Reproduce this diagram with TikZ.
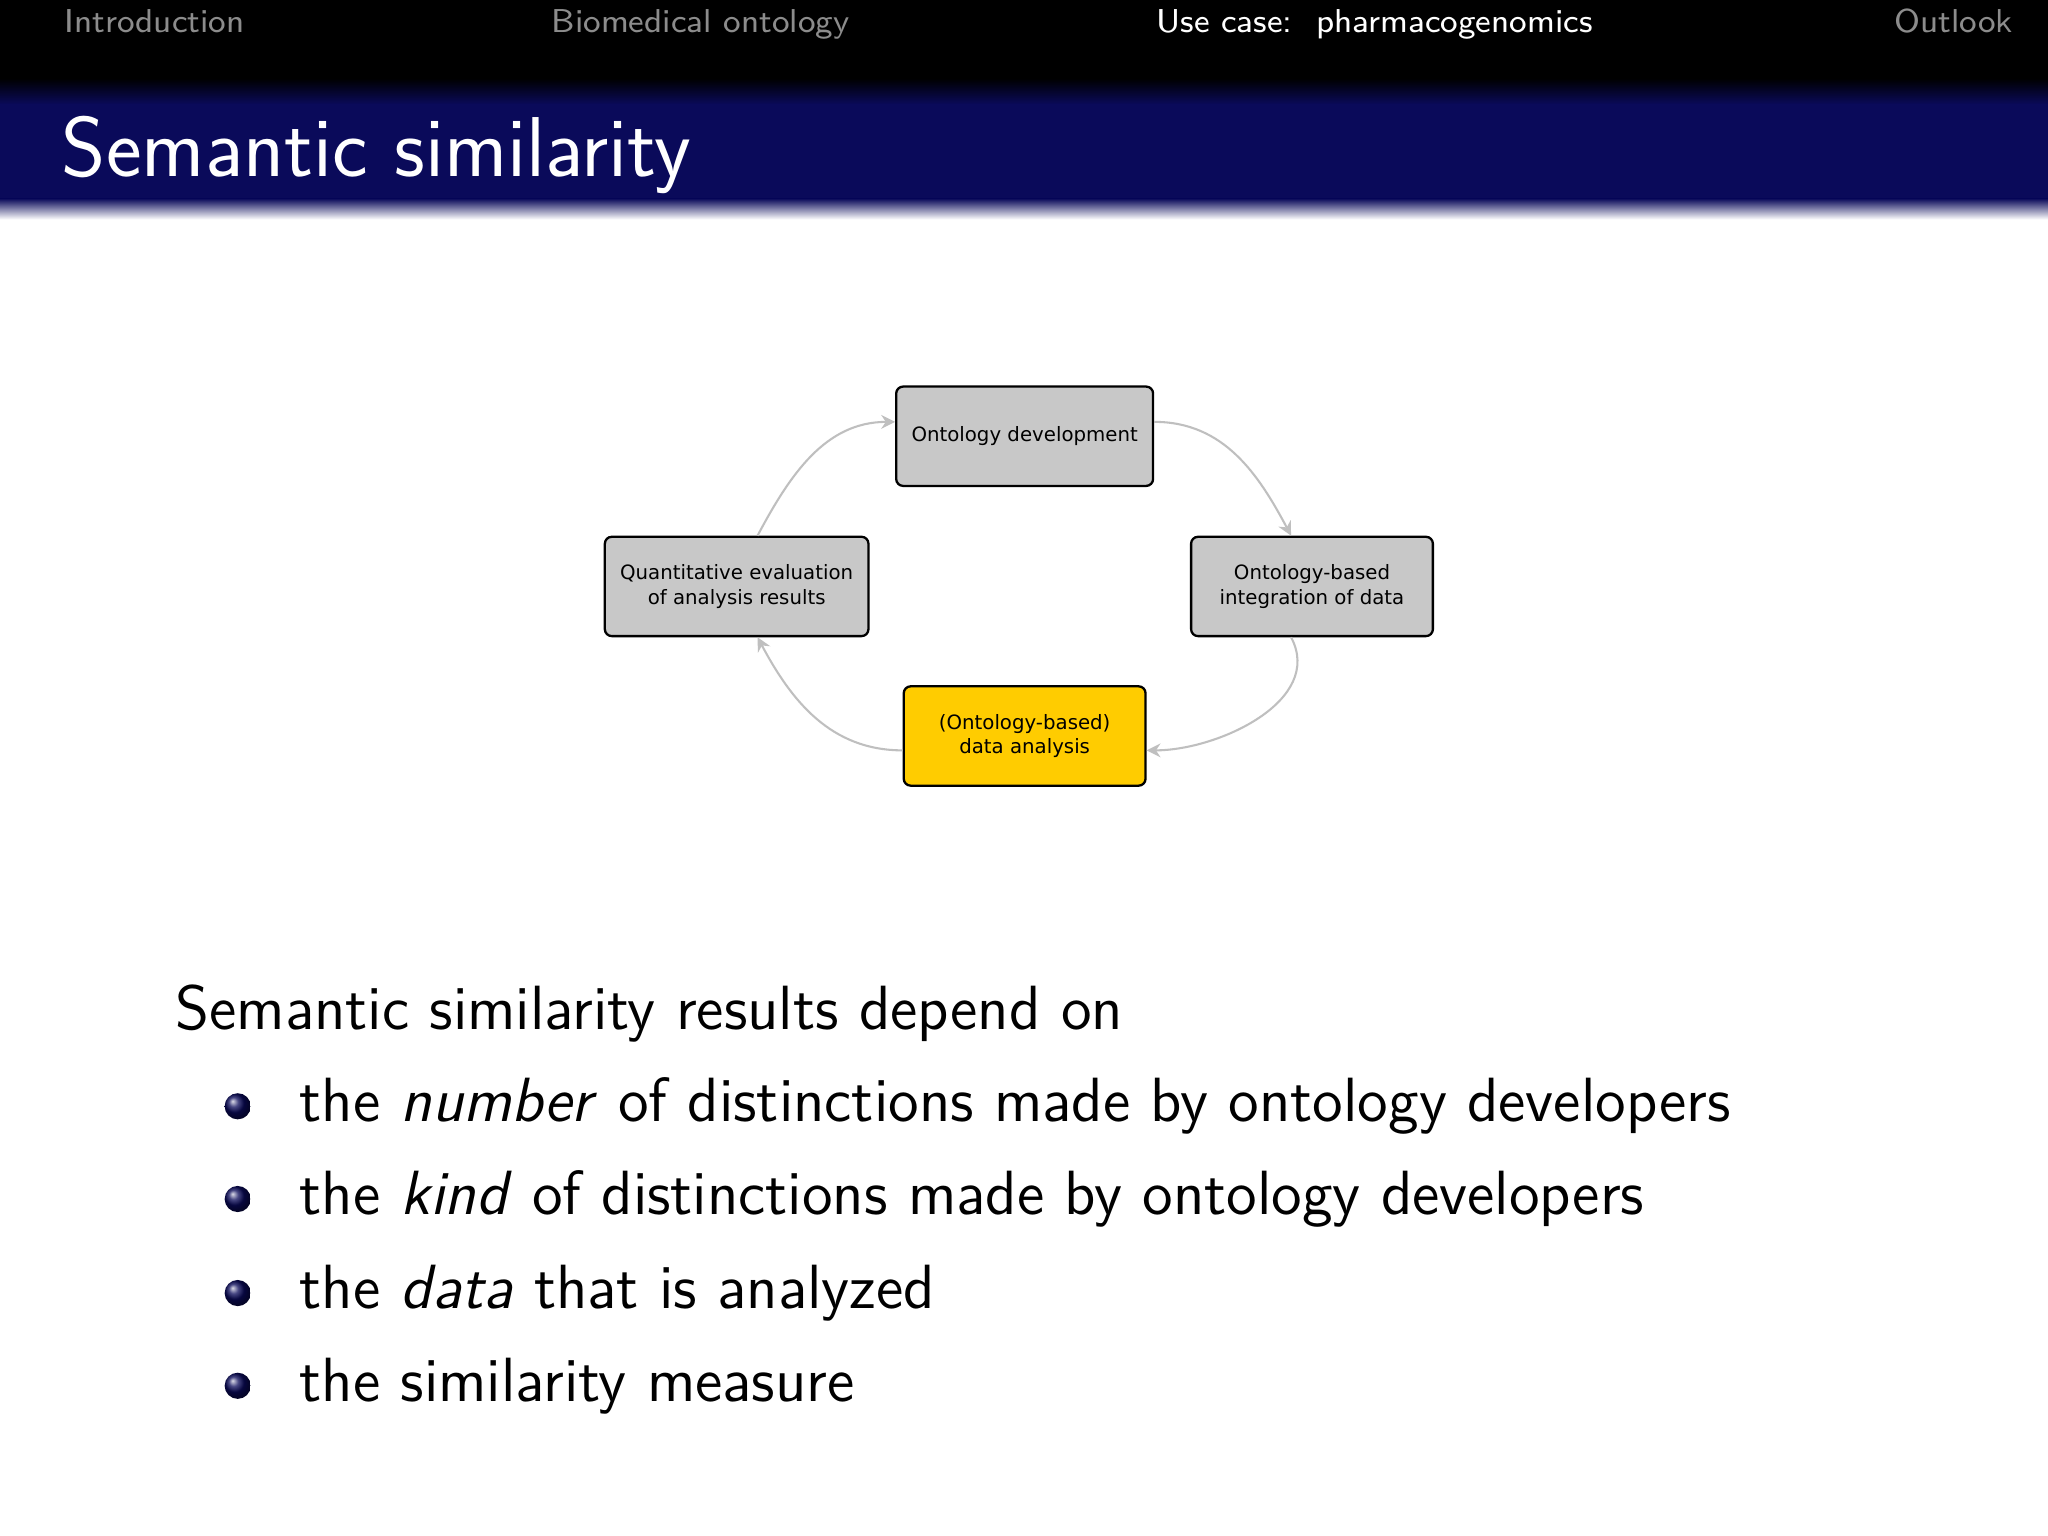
\documentclass[tikz,border=0pt]{standalone}
\usepackage{fontspec}
\newfontfamily\djv{DejaVu Sans}
\usetikzlibrary{arrows.meta,shadings}
\definecolor{navy}{RGB}{10,10,90}
\definecolor{boxgray}{RGB}{200,200,200}
\definecolor{gold}{RGB}{255,204,0}
\tikzset{
  box/.style={draw=black,rounded corners=1.5pt,line width=0.5pt,minimum width=1.85cm,minimum height=0.76cm,align=center,font=\djv\fontsize{4.3pt}{5.4pt}\selectfont,fill=boxgray},
  cyc/.style={draw=black!25,line width=0.45pt,-{Stealth[length=3pt,width=3pt]}},
  nav/.style={anchor=base west,font=\sffamily\fontsize{7.2pt}{8pt}\selectfont},
  body/.style={anchor=base west,font=\sffamily\fontsize{13.6pt}{16pt}\selectfont},
  ball/.style={circle,inner sep=0pt,minimum size=0.2cm,shading=ball,ball color=navy}
}
\begin{document}
\begin{tikzpicture}[x=0.01cm,y=-0.01cm]
\useasboundingbox (0,0) rectangle (1568,1176);
\fill[white] (0,0) rectangle (1568,1176);
\fill[black] (0,0) rectangle (1568,68);
\shade[top color=black,bottom color=navy] (0,60) rectangle (1568,80);
\fill[navy] (0,80) rectangle (1568,152);
\shade[top color=navy,bottom color=white] (0,152) rectangle (1568,168);
\node[nav,text=black!45!white] (n1) at (37,25) {Introduction};
\node[nav,text=black!45!white] (n2) at (410,25) {Biomedical ontology};
\node[nav,text=white] (n3) at (873,25) {Use case:\ \ pharmacogenomics};
\node[nav,text=black!45!white] (n4) at (1438,25) {Outlook};
\node[anchor=base west,text=white,font=\sffamily\fontsize{18.5pt}{20pt}\selectfont] (title) at (35,135) {Semantic similarity};

\node[box] (dev) at (784.5,334) {Ontology development};
\node[box] (qe) at (564,449) {Quantitative evaluation\\of analysis results};
\node[box] (int) at (1004.5,449) {Ontology-based\\integration of data};
\node[box,fill=gold] (da) at (784.5,563.5) {(Ontology-based)\\data analysis};

\draw[cyc] ([xshift=0.16cm]qe.north) to[out=62,in=180] ([yshift=0.11cm]dev.west);
\draw[cyc] ([yshift=0.11cm]dev.east) to[out=0,in=118] ([xshift=-0.16cm]int.north);
\draw[cyc] ([xshift=-0.16cm]int.south) to[out=-62,in=0] ([yshift=-0.11cm]da.east);
\draw[cyc] ([yshift=-0.11cm]da.west) to[out=180,in=-62] ([xshift=0.16cm]qe.south);

\node[body] (lead) at (122,788) {Semantic similarity results depend on};
\node[ball] (b1) at (182,847) {};
\node[ball] (b2) at (182,918) {};
\node[ball] (b3) at (182,990) {};
\node[ball] (b4) at (182,1061) {};
\node[body] (i1) at (217,859) {the \textit{number} of distinctions made by ontology developers};
\node[body] (i2) at (217,930) {the \textit{kind} of distinctions made by ontology developers};
\node[body] (i3) at (217,1002) {the \textit{data} that is analyzed};
\node[body] (i4) at (217,1073) {the similarity measure};
\end{tikzpicture}
\end{document}
